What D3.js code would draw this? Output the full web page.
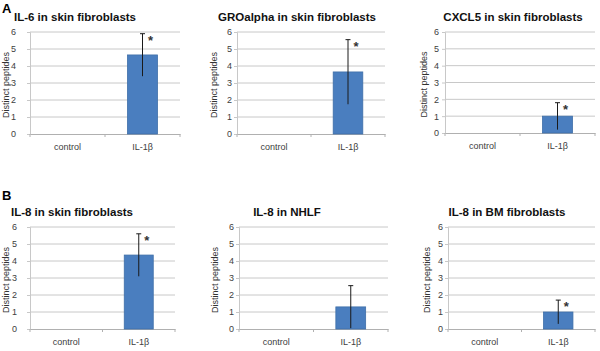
<!DOCTYPE html>
<html>
<head>
<meta charset="utf-8">
<script src="https://cdn.jsdelivr.net/npm/d3@7"></script>
<style>
  body { margin: 0; background: #fff; }
  svg { display: block; font-family: "Liberation Sans", Arial, sans-serif; }
</style>
</head>
<body>
<div id="chart"></div>
<script>
// data
var titles = ["IL-6 in skin fibroblasts", "GROalpha in skin fibroblasts", "CXCL5 in skin fibroblasts",
              "IL-8 in skin fibroblasts", "IL-8 in NHLF", "IL-8 in BM fibroblasts"];
var categories = ["control", "IL-1\u03b2"];
var controlValues = [0, 0, 0, 0, 0, 0];
var il1bValues = [4.65, 3.65, 1.0, 4.35, 1.3, 1.0];
var il1bErrors = [1.25, 1.9, 0.8, 1.25, 1.25, 0.7];
var significant = [true, true, true, true, false, true];
var yTicks = [0, 1, 2, 3, 4, 5, 6];
var yLabel = "Distinct peptides";
var panelLetters = ["A", "B"];

var width = 600, height = 351;

// where each small excel chart sits in the figure
var frames = [
  {x0: 30,  x1: 180, top: 32,  bottom: 134, tickGap: 14, labelX: 6,   titleX: 75},
  {x0: 237, x1: 385, top: 32,  bottom: 134, tickGap: 5,  labelX: 214, titleX: 297},
  {x0: 445, x1: 595, top: 32,  bottom: 133, tickGap: 6,  labelX: 424, titleX: 513},
  {x0: 30,  x1: 175, top: 227, bottom: 329, tickGap: 13, labelX: 6,   titleX: 72},
  {x0: 239, x1: 388, top: 227, bottom: 329, tickGap: 5,  labelX: 215, titleX: 287},
  {x0: 448, x1: 595, top: 227, bottom: 329, tickGap: 5,  labelX: 427, titleX: 507}
];

var svg = d3.select("#chart").append("svg")
    .attr("width", width)
    .attr("height", height);

svg.selectAll("text.letter")
    .data(panelLetters)
  .enter().append("text")
    .attr("class", "letter")
    .attr("x", 2)
    .attr("y", function(d, i) { return i == 0 ? 13 : 200; })
    .style("font-size", "13px")
    .style("font-weight", "bold")
    .text(function(d) { return d; });

function makePanel(i) {
    var f = frames[i];

    var x = d3.scaleBand()
        .domain(categories)
        .range([f.x0, f.x1])
        .paddingInner(0.6)
        .paddingOuter(0.3);

    var y = d3.scaleLinear()
        .domain([0, 6])
        .range([f.bottom, f.top]);

    var g = svg.append("g").attr("class", "panel");

    // gridlines
    g.selectAll("line.grid")
        .data(yTicks.slice(1))
      .enter().append("line")
        .attr("x1", f.x0)
        .attr("x2", f.x1)
        .attr("y1", function(d) { return y(d); })
        .attr("y2", function(d) { return y(d); })
        .style("stroke", "#c8c8c8")
        .style("stroke-width", 1);

    // y axis
    var yAxis = g.append("g")
        .attr("transform", "translate(" + f.x0 + ",0)")
        .call(d3.axisLeft(y).tickValues(yTicks).tickFormat(d3.format("d"))
              .tickSize(3).tickPadding(f.tickGap - 3));
    yAxis.select(".domain").style("stroke", "#c8c8c8");
    yAxis.selectAll(".tick line").style("stroke", "#c8c8c8");
    yAxis.selectAll("text")
        .style("font-size", "9px")
        .style("fill", "#404040");

    // x axis
    var xAxis = g.append("g")
        .attr("transform", "translate(0," + f.bottom + ")")
        .call(d3.axisBottom(x).tickSize(0).tickPadding(10));
    xAxis.select(".domain").style("stroke", "#b0b0b0");
    xAxis.selectAll("text")
        .style("font-size", "9px")
        .style("fill", "#404040");

    // category separators on the x axis
    g.selectAll("line.sep")
        .data([f.x0, (f.x0 + f.x1) / 2, f.x1])
      .enter().append("line")
        .attr("x1", function(d) { return d; })
        .attr("x2", function(d) { return d; })
        .attr("y1", f.bottom)
        .attr("y2", f.bottom + 3)
        .style("stroke", "#b0b0b0");

    var vals = [controlValues[i], il1bValues[i]];
    var errs = [0, il1bErrors[i]];

    g.selectAll("rect.bar")
        .data(vals)
      .enter().append("rect")
        .attr("x", function(d, j) { return x(categories[j]); })
        .attr("width", x.bandwidth())
        .attr("y", function(d) { return y(d); })
        .attr("height", function(d) { return y(0) - y(d); })
        .style("fill", "#4a7ebf")
        .style("stroke", "#3f6fa8")
        .style("stroke-width", 0.8);

    // error bar on the stimulated bar
    var cx = x(categories[1]) + x.bandwidth() / 2;
    var hi = y(vals[1] + errs[1]), lo = y(Math.max(0, vals[1] - errs[1]));
    g.append("line")
        .attr("x1", cx).attr("x2", cx)
        .attr("y1", hi).attr("y2", lo)
        .style("stroke", "#1a1a1a")
        .style("stroke-width", 1);
    g.append("line")
        .attr("x1", cx - 2.5).attr("x2", cx + 2.5)
        .attr("y1", hi).attr("y2", hi)
        .style("stroke", "#1a1a1a")
        .style("stroke-width", 1);

    if (significant[i]) {
        g.append("text")
            .attr("x", cx + 8)
            .attr("y", hi + 11)
            .attr("text-anchor", "middle")
            .style("font-size", "13px")
            .style("font-weight", "bold")
            .style("fill", "#333")
            .text("*");
    }

    // title
    g.append("text")
        .attr("x", f.titleX)
        .attr("y", f.top - 11)
        .attr("text-anchor", "middle")
        .style("font-size", "11.5px")
        .style("font-weight", "bold")
        .style("fill", "#111")
        .text(titles[i]);

    // y label
    g.append("text")
        .attr("transform", "translate(" + (f.labelX + 3) + "," + ((f.top + f.bottom) / 2 + 2) + ") rotate(-90)")
        .attr("text-anchor", "middle")
        .style("font-size", "9px")
        .style("fill", "#333")
        .text(yLabel);
}

for (var i = 0; i < titles.length; i++) {
    makePanel(i);
}
</script>
</body>
</html>
